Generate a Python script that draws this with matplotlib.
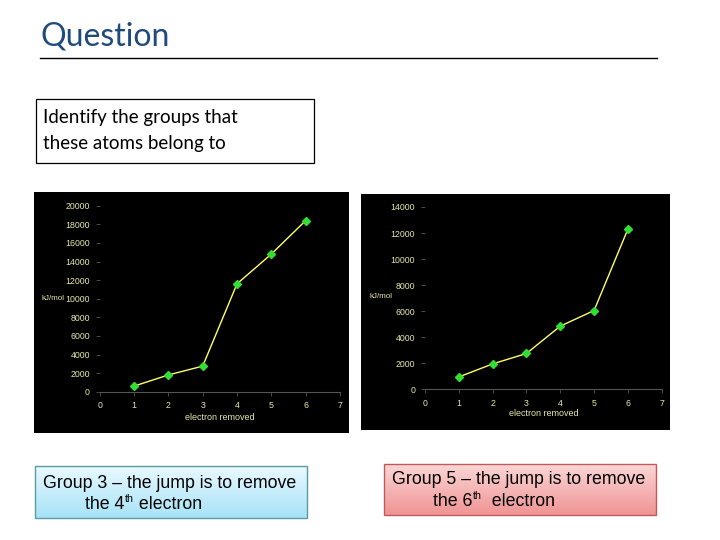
import matplotlib
matplotlib.use("Agg")
import matplotlib.pyplot as plt
import numpy as np
from matplotlib.patches import Rectangle

# Data
electrons = [1, 2, 3, 4, 5, 6]
energies_left = [600, 1800, 2750, 11600, 14800, 18400]
energies_right = [950, 1950, 2750, 4850, 6050, 12300]
yticks_left = list(range(0, 20001, 2000))
yticks_right = list(range(0, 14001, 2000))
xticks = list(range(0, 8))

title = "Question"
prompt = "Identify the groups that\nthese atoms belong to"
ans_left = ["Group 3 \u2013 the jump is to remove", ("the 4", "th", " electron")]
ans_right = ["Group 5 \u2013 the jump is to remove", ("the 6", "th", "  electron")]

W, H = 720, 540
fig = plt.figure(figsize=(7.2, 5.4), dpi=100)
fig.patch.set_facecolor('white')

deco = fig.add_axes([0, 0, 1, 1])
deco.set_xlim(0, W)
deco.set_ylim(H, 0)
deco.axis('off')

# Title and rule
deco.text(41, 36, title, fontsize=23, color='#1f4a7a', family='Lato',
          va='center', ha='left')
deco.plot([40, 657], [58, 58], color='black', lw=1.0)

# Prompt box
deco.add_patch(Rectangle((36, 99), 278, 64, fill=False, edgecolor='black', lw=0.9))
deco.text(43, 117, prompt.split("\n")[0], fontsize=13.5, family='Lato', va='center',
          ha='left', color='black')
deco.text(43, 143, prompt.split("\n")[1], fontsize=13.5, family='Lato', va='center',
          ha='left', color='black')

# Black chart panels
deco.add_patch(Rectangle((34, 192), 315, 241, facecolor='black', edgecolor='none'))
deco.add_patch(Rectangle((361, 194), 309, 236, facecolor='black', edgecolor='none'))

# Gradient answer boxes
def grad_box(x, y, w, h, top, bot, edge):
    t = np.array(matplotlib.colors.to_rgb(top))
    b = np.array(matplotlib.colors.to_rgb(bot))
    g = np.linspace(0, 1, 64)[:, None, None]
    img = t * (1 - g) + b * g
    img = np.repeat(img, 2, axis=1)
    deco.imshow(img, extent=(x, x + w, y + h, y), aspect='auto', zorder=1)
    deco.add_patch(Rectangle((x, y), w, h, fill=False, edgecolor=edge, lw=1.0, zorder=2))

grad_box(35, 466, 272, 52, '#eaf9ff', '#a6e3f7', '#5a9aa8')
grad_box(384, 464, 272, 51, '#fbd6d6', '#f09494', '#c05a5a')
deco.set_xlim(0, W)
deco.set_ylim(H, 0)

fs = 12.8
fig.canvas.draw()
renderer = fig.canvas.get_renderer()

def sup_line(x, y, parts):
    t1 = deco.text(x, y, parts[0], fontsize=fs, family='Liberation Sans',
                   va='baseline', ha='left', zorder=3)
    ext = t1.get_window_extent(renderer)
    x2 = deco.transData.inverted().transform((ext.x1, ext.y0))[0]
    t2 = deco.text(x2 + 0.5, y - 7, parts[1], fontsize=fs * 0.6, family='Liberation Sans',
                   va='baseline', ha='left', zorder=3)
    ext2 = t2.get_window_extent(renderer)
    x3 = deco.transData.inverted().transform((ext2.x1, ext2.y0))[0]
    deco.text(x3, y, parts[2], fontsize=fs, family='Liberation Sans',
              va='baseline', ha='left', zorder=3)

deco.text(43, 483, ans_left[0], fontsize=fs, family='Liberation Sans', va='center', ha='left', zorder=3)
sup_line(85, 509, ans_left[1])
deco.text(392, 480, ans_right[0], fontsize=fs, family='Liberation Sans', va='center', ha='left', zorder=3)
sup_line(433, 506, ans_right[1])

label_col = '#e8e8a8'
axis_col = '#555555'

def chart(rect, x, y, yticks, ymax, ylabel_x, ylabel_y, xlabel_y):
    ax = fig.add_axes(rect)
    ax.set_facecolor('none')
    ax.set_xlim(0, 7)
    ax.set_ylim(0, ymax)
    ax.plot(x, y, color='#ffff66', lw=1.0, zorder=3, clip_on=False)
    ax.plot(x, y, linestyle='none', marker='D', markersize=4.5,
            color='#33dd33', zorder=4, clip_on=False)
    for s in ['top', 'right', 'left']:
        ax.spines[s].set_visible(False)
    ax.spines['bottom'].set_color(axis_col)
    ax.spines['bottom'].set_linewidth(0.8)
    ax.set_xticks(xticks)
    ax.set_yticks(yticks)
    ax.tick_params(axis='x', colors=axis_col, length=3, width=0.6, labelcolor=label_col,
                   labelsize=6.3, pad=4)
    ax.tick_params(axis='y', colors=axis_col, length=3, width=0.6, labelcolor=label_col,
                   labelsize=6.3, pad=4)
    for lab in ax.get_xticklabels() + ax.get_yticklabels():
        lab.set_family('Liberation Sans')
    deco.text(ylabel_x, ylabel_y, 'kJ/mol', fontsize=5.8, color=label_col,
              family='Liberation Sans', va='center', ha='left')
    cx = (rect[0] + rect[2] / 2) * W
    deco.text(cx, xlabel_y, 'electron removed', fontsize=6.5, color=label_col,
              family='Liberation Sans', va='center', ha='center')
    return ax

chart([99.7 / W, 1 - 391.7 / H, 240.3 / W, 186 / H], electrons, energies_left,
      yticks_left, 20000, 41, 299, 418)
chart([425 / W, 1 - 389.3 / H, 236.7 / W, 182.3 / H], electrons, energies_right,
      yticks_right, 14000, 369, 297, 414)

fig.savefig('out.png', dpi=100, facecolor='white')
